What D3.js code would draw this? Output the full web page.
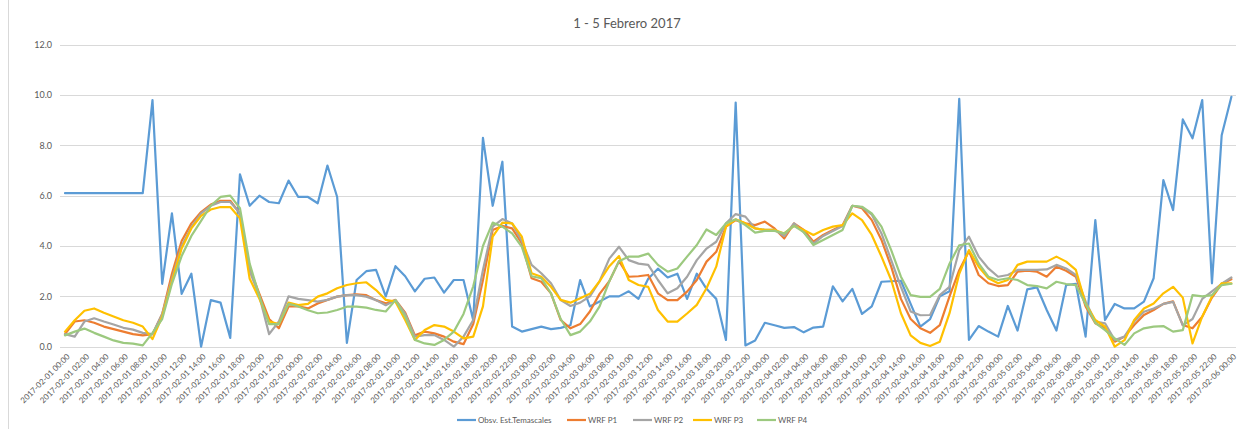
<!DOCTYPE html>
<html>
<head>
<meta charset="utf-8">
<script src="https://cdnjs.cloudflare.com/ajax/libs/d3/7.8.5/d3.min.js"></script>
<style>
  html, body { margin: 0; padding: 0; background: #fff; }
  svg { display: block; }
</style>
</head>
<body>
<div id="chart"></div>
<script>
// ---------- DATA ----------
const title = "1 - 5 Febrero 2017";
const days = ["2017-02-01", "2017-02-02", "2017-02-03", "2017-02-04", "2017-02-05", "2017-02-06"];
const hours = ["00:00","01:00","02:00","03:00","04:00","05:00","06:00","07:00","08:00","09:00","10:00","11:00",
               "12:00","13:00","14:00","15:00","16:00","17:00","18:00","19:00","20:00","21:00","22:00","23:00"];
// hourly categories 2017-02-01 00:00 .. 2017-02-06 00:00
const categories = [];
days.forEach((d, di) => hours.forEach(h => { if (di < 5 || h === "00:00") categories.push(d + " " + h); }));

const yTicks = [0, 2, 4, 6, 8, 10, 12];
const seriesNames = ["Obsv. Est.Temascales", "WRF P1", "WRF P2", "WRF P3", "WRF P4"];

const obs = [6.1,6.1,6.1,6.1,6.1,6.1,6.1,6.1,6.1,9.8,
  2.5,5.3,2.1,2.9,0.0,1.85,1.75,0.35,6.85,5.6,
  6.0,5.75,5.7,6.6,5.95,5.95,5.7,7.2,5.95,0.15,
  2.65,3.0,3.05,2.0,3.2,2.8,2.2,2.7,2.75,2.15,
  2.65,2.65,1.05,8.3,5.6,7.35,0.8,0.6,0.7,0.8,
  0.7,0.75,0.85,2.65,1.6,1.8,2.0,2.0,2.2,1.9,
  2.7,3.1,2.75,2.9,1.9,2.9,2.3,1.9,0.27,9.7,
  0.05,0.25,0.95,0.85,0.75,0.78,0.57,0.76,0.8,2.4,
  1.8,2.3,1.3,1.6,2.58,2.6,2.62,1.7,0.8,1.1,
  2.0,2.2,9.85,0.27,0.82,0.6,0.4,1.62,0.64,2.28,
  2.36,1.46,0.64,2.45,2.5,0.4,5.03,1.06,1.7,1.52,
  1.52,1.79,2.72,6.62,5.43,9.03,8.28,9.8,2.52,8.4,
  9.93];

const wrfP1 = [0.5,1.0,1.05,0.95,0.8,0.7,0.6,0.5,0.45,0.5,
  1.3,2.9,4.2,4.9,5.35,5.65,5.8,5.8,5.3,3.1,
  2.1,1.1,0.73,1.6,1.6,1.52,1.72,1.86,1.99,2.05,
  2.08,2.05,1.85,1.72,1.86,1.35,0.45,0.6,0.53,0.4,
  0.2,0.1,0.9,2.65,4.64,4.8,4.7,4.1,2.72,2.58,
  2.12,1.06,0.73,0.9,1.4,2.1,2.6,3.4,2.78,2.8,
  2.85,2.12,1.85,1.85,2.19,2.65,3.38,3.77,4.77,5.03,
  4.9,4.83,4.97,4.7,4.3,4.9,4.64,4.17,4.44,4.64,
  4.83,5.6,5.5,5.03,4.24,3.18,1.9,1.1,0.73,0.55,
  0.86,2.0,3.04,3.8,2.85,2.52,2.41,2.45,2.98,3.02,
  2.98,2.78,3.18,3.02,2.78,1.6,0.93,0.73,0.2,0.4,
  0.86,1.26,1.46,1.7,1.8,0.86,0.73,1.19,1.95,2.5,
  2.68];

const wrfP2 = [0.5,0.4,1.0,1.13,1.0,0.88,0.75,0.68,0.55,0.5,
  1.3,2.7,4.0,4.75,5.3,5.6,5.75,5.75,5.3,3.0,
  2.0,0.5,1.0,2.0,1.9,1.85,1.79,1.86,1.99,2.05,
  2.05,1.99,1.85,1.65,1.85,1.3,0.4,0.46,0.46,0.27,
  0.0,0.4,1.06,3.05,4.77,5.07,4.9,4.2,3.25,2.92,
  2.52,1.85,1.62,1.75,2.0,2.6,3.5,3.97,3.44,3.3,
  3.25,2.65,2.12,2.32,2.78,3.44,3.9,4.17,4.9,5.27,
  5.17,4.7,4.64,4.64,4.4,4.9,4.55,4.1,4.4,4.6,
  4.8,5.6,5.54,5.25,4.5,3.44,2.38,1.4,1.25,1.26,
  2.05,2.38,3.84,4.37,3.58,3.11,2.78,2.85,3.05,3.05,
  3.05,3.07,3.25,3.11,2.85,1.8,1.0,0.93,0.26,0.4,
  1.0,1.39,1.52,1.7,1.78,0.85,1.1,1.9,2.2,2.5,
  2.75];

const wrfP3 = [0.6,1.05,1.43,1.52,1.35,1.2,1.05,0.95,0.8,0.3,
  1.2,2.6,3.9,4.7,5.2,5.45,5.55,5.55,5.1,2.7,
  1.9,1.0,0.9,1.75,1.65,1.7,1.99,2.12,2.32,2.45,
  2.52,2.56,2.25,1.86,1.79,1.06,0.27,0.66,0.86,0.8,
  0.6,0.33,0.4,1.6,4.37,4.93,4.9,4.37,2.92,2.78,
  2.38,1.86,1.75,1.93,2.1,2.6,3.2,3.6,2.65,2.45,
  2.38,1.46,1.0,1.0,1.32,1.66,2.32,3.18,4.77,5.06,
  4.9,4.7,4.64,4.64,4.5,4.8,4.64,4.44,4.64,4.77,
  4.83,5.3,5.03,4.44,3.58,2.65,1.33,0.45,0.15,0.03,
  0.2,1.33,2.9,3.84,3.18,2.72,2.52,2.65,3.25,3.38,
  3.38,3.38,3.58,3.38,3.05,1.7,1.06,0.8,0.0,0.26,
  1.06,1.52,1.72,2.12,2.38,1.95,0.13,1.2,2.0,2.52,
  2.52];

const wrfP4 = [0.45,0.6,0.72,0.55,0.4,0.25,0.15,0.12,0.05,0.55,
  1.1,2.5,3.6,4.4,5.0,5.6,5.95,6.0,5.5,3.3,
  2.0,0.9,0.9,1.7,1.6,1.45,1.33,1.36,1.46,1.59,
  1.59,1.55,1.46,1.4,1.85,1.2,0.27,0.13,0.07,0.27,
  0.6,1.3,2.4,4.0,4.93,4.77,4.5,3.97,2.8,2.72,
  2.12,1.1,0.46,0.6,1.0,1.6,2.6,3.4,3.58,3.58,
  3.7,3.25,2.98,3.11,3.58,4.04,4.66,4.44,4.9,5.06,
  4.83,4.53,4.6,4.6,4.5,4.8,4.55,4.04,4.24,4.44,
  4.64,5.6,5.56,5.3,4.77,3.84,2.78,2.05,1.98,1.98,
  2.3,3.3,4.03,4.1,3.31,2.78,2.65,2.72,2.65,2.45,
  2.41,2.32,2.58,2.49,2.45,1.7,0.95,0.66,0.33,0.07,
  0.53,0.73,0.8,0.82,0.6,0.66,2.05,2.0,2.05,2.45,
  2.5];

const seriesValues = [obs, wrfP1, wrfP2, wrfP3, wrfP4];
const colors = ["#5B9BD5", "#ED7D31", "#A5A5A5", "#FFC000", "#9CC97F"];

// ---------- CHART ----------
const W = 1238, H = 429;
const svg = d3.select("#chart").append("svg").attr("width", W).attr("height", H);
svg.append("rect").attr("width", W).attr("height", H).attr("fill", "#fff");
svg.append("line").attr("x1", 8.5).attr("x2", 8.5).attr("y1", 0).attr("y2", H)
  .attr("stroke", "#d9d9d9").attr("stroke-width", 1);

const plotLeft = 60, plotRight = 1236;
const x = d3.scalePoint().domain(categories).range([65, 1231.4]);
const y = d3.scaleLinear().domain([0, 12]).range([346.7, 44.7]);
const font = "Lato, 'Open Sans', 'Liberation Sans', sans-serif";

// gridlines
svg.append("g").selectAll("line").data(yTicks.filter(d => d > 0)).join("line")
  .attr("x1", plotLeft).attr("x2", plotRight)
  .attr("y1", d => Math.round(y(d)) + 0.5).attr("y2", d => Math.round(y(d)) + 0.5)
  .attr("stroke", "#d9d9d9").attr("stroke-width", 1);

// y axis labels
const yAxis = d3.axisLeft(y).tickValues(yTicks).tickFormat(d3.format(".1f")).tickSize(0).tickPadding(0);
const gy = svg.append("g").attr("transform", "translate(52,0)").call(yAxis);
gy.select(".domain").remove();
gy.selectAll("text").attr("fill", "#595959").style("font-family", font).style("font-size", "9px");

// x axis
const xLabelCats = categories.filter((d, i) => i % 2 === 0);
const xAxis = d3.axisBottom(x).tickValues(xLabelCats).tickSize(0).tickPadding(0);
const gx = svg.append("g").attr("transform", `translate(0,${Math.round(y(0)) + 0.5})`).call(xAxis);
gx.select(".domain").attr("d", `M${plotLeft},0H${plotRight}`).attr("stroke", "#d9d9d9");
gx.selectAll("text")
  .attr("fill", "#595959").style("font-family", font).style("font-size", "8px")
  .attr("text-anchor", "end")
  .attr("dy", "0.32em").attr("y", 0)
  .attr("transform", "translate(3,8) rotate(-45)");

// lines
const line = d3.line().x((d, i) => x(categories[i])).y(d => y(d));
svg.append("g").selectAll("path").data(seriesValues).join("path")
  .attr("d", d => line(d))
  .attr("fill", "none")
  .attr("stroke", (d, i) => colors[i])
  .attr("stroke-width", 2.2)
  .attr("stroke-linejoin", "round")
  .attr("stroke-linecap", "round");

// title
svg.append("text").attr("x", 627).attr("y", 28).attr("text-anchor", "middle")
  .attr("fill", "#595959").style("font-family", font).style("font-size", "13px")
  .text(title);

// legend
const legendX = [457, 567, 633, 693, 757];
const lg = svg.append("g").selectAll("g").data(seriesNames).join("g")
  .attr("transform", (d, i) => `translate(${legendX[i]},420)`);
lg.append("line").attr("x1", 0).attr("x2", 19).attr("y1", 0).attr("y2", 0)
  .attr("stroke", (d, i) => colors[i]).attr("stroke-width", 2.2);
lg.append("text").attr("x", 21).attr("y", 0).attr("dy", "0.35em")
  .attr("fill", "#595959").style("font-family", font).style("font-size", "8px")
  .text(d => d);
</script>
</body>
</html>
